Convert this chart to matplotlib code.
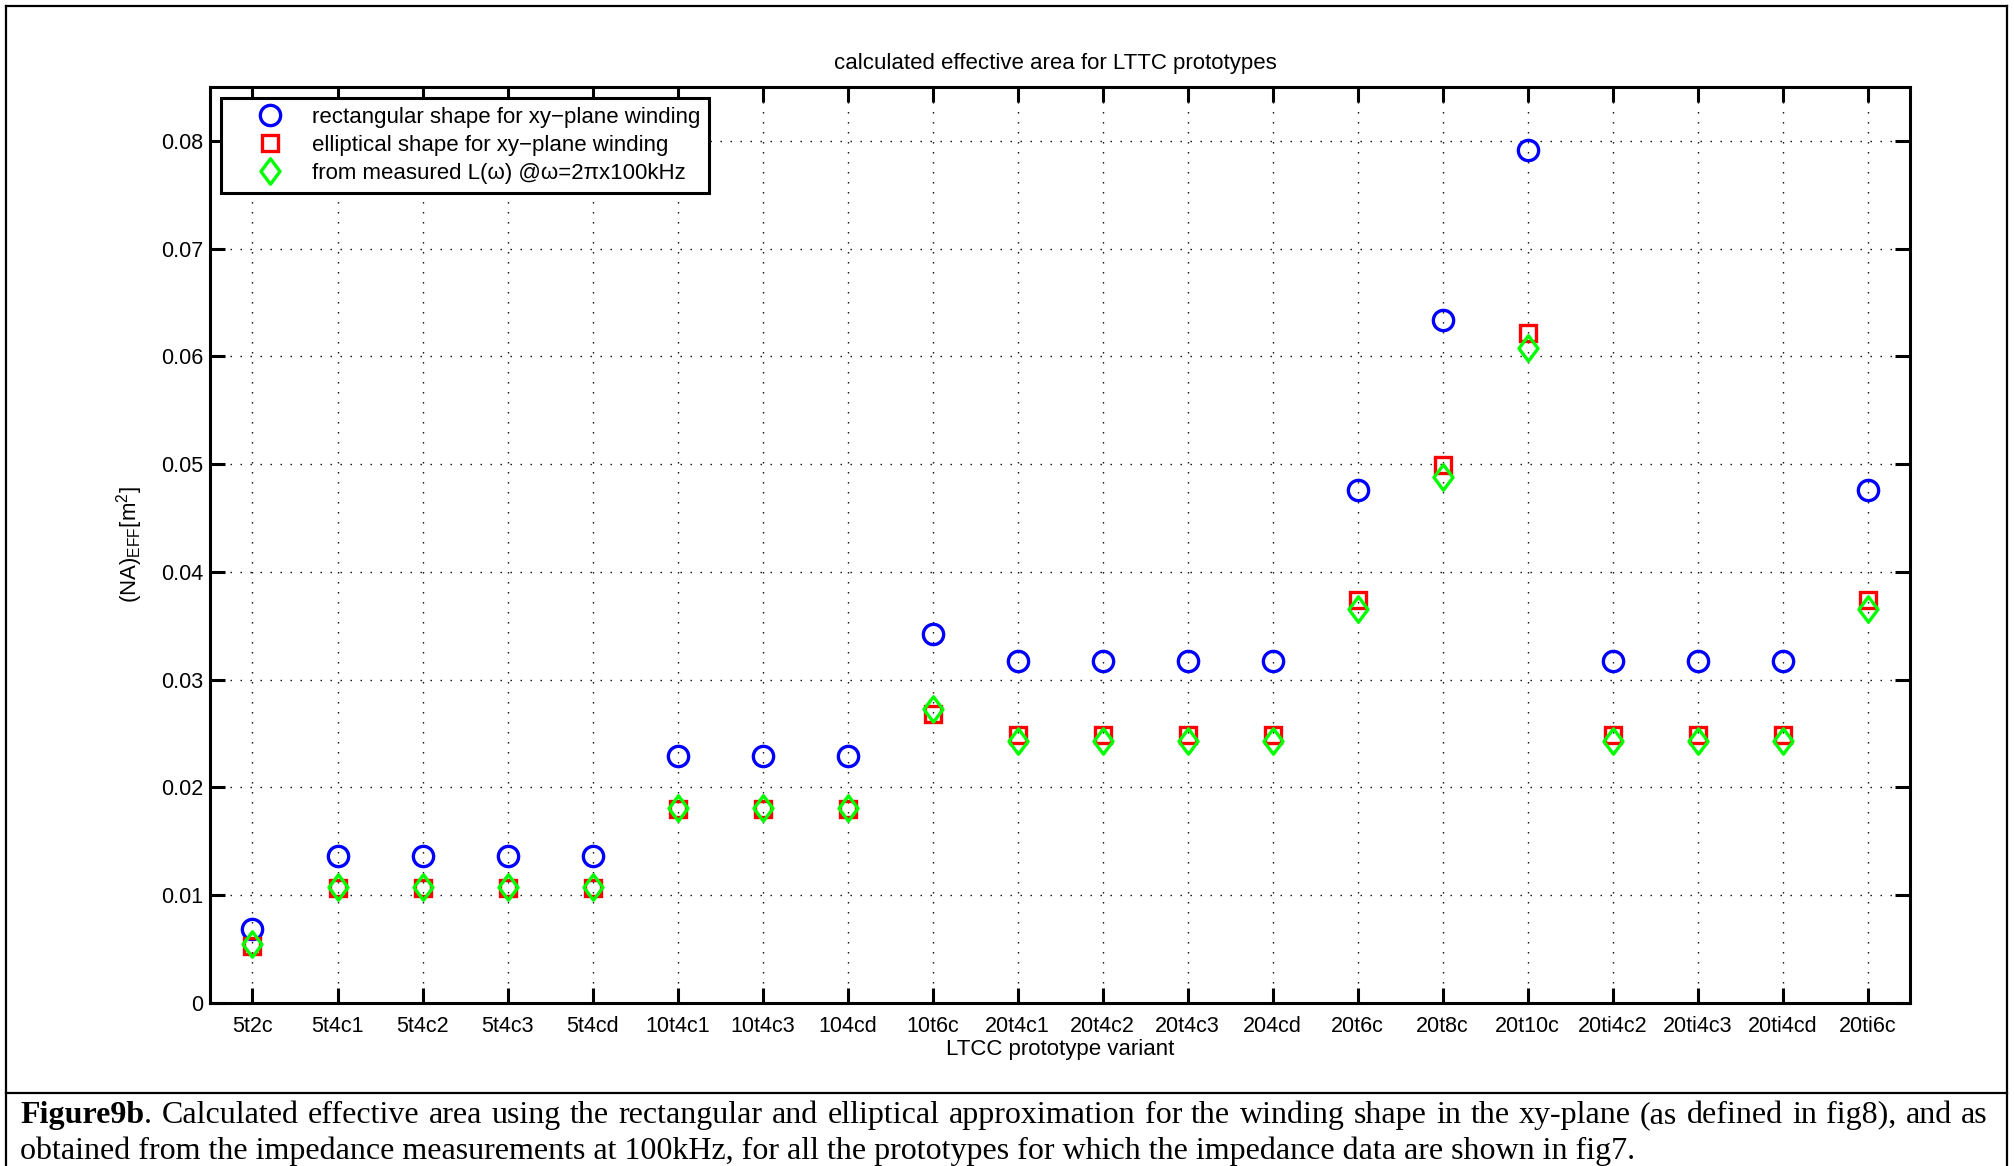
import matplotlib
matplotlib.use('Agg')
import matplotlib.pyplot as plt
from matplotlib.lines import Line2D
from matplotlib.path import Path
from matplotlib.markers import MarkerStyle

# ---------------- data ----------------
categories = ['5t2c', '5t4c1', '5t4c2', '5t4c3', '5t4cd', '10t4c1', '10t4c3', '104cd',
              '10t6c', '20t4c1', '20t4c2', '20t4c3', '204cd', '20t6c', '20t8c', '20t10c',
              '20ti4c2', '20ti4c3', '20ti4cd', '20ti6c']
rect_area = [0.0069, 0.0136, 0.0136, 0.0136, 0.0136, 0.0229, 0.0229, 0.0229,
             0.0342, 0.0317, 0.0317, 0.0317, 0.0317, 0.0476, 0.0634, 0.0792,
             0.0317, 0.0317, 0.0317, 0.0476]
ellip_area = [0.0053, 0.0107, 0.0107, 0.0107, 0.0107, 0.0180, 0.0180, 0.0180,
              0.0268, 0.0249, 0.0249, 0.0249, 0.0249, 0.0374, 0.0499, 0.0622,
              0.0249, 0.0249, 0.0249, 0.0374]
meas_area = [0.0055, 0.0108, 0.0108, 0.0108, 0.0108, 0.0181, 0.0181, 0.0181,
             0.0273, 0.0243, 0.0243, 0.0243, 0.0243, 0.0366, 0.0488, 0.0608,
             0.0243, 0.0243, 0.0243, 0.0366]
y_ticks = [0.0, 0.01, 0.02, 0.03, 0.04, 0.05, 0.06, 0.07, 0.08]
y_tick_labels = ['0', '0.01', '0.02', '0.03', '0.04', '0.05', '0.06', '0.07', '0.08']
series_labels = ['rectangular shape for xy\u2212plane winding',
                 'elliptical shape for xy\u2212plane winding',
                 'from measured L(\u03c9) @\u03c9=2\u03c0x100kHz']
title = 'calculated effective area for LTTC prototypes'
xlabel = 'LTCC prototype variant'
ylabel = r'(NA)$_{EFF}$[m$^{2}$]'
caption_bold = 'Figure9b'
caption_line1 = ('. Calculated effective area using the rectangular and elliptical approximation '
                 'for the winding shape in the xy-plane (as defined in fig8), and as')
caption_line2 = ('obtained from the impedance measurements at 100kHz, for all the prototypes '
                 'for which the impedance data are shown in fig7.')

# ---------------- style ----------------
plt.rcParams['font.family'] = ['Liberation Sans', 'DejaVu Sans']
plt.rcParams['mathtext.default'] = 'regular'

W, H = 2015, 1166
fig = plt.figure(figsize=(W / 100, H / 100), dpi=100)
fig.patch.set_facecolor('white')

ax_l, ax_r, ax_t, ax_b = 210, 1910, 87, 1003
ax = fig.add_axes([ax_l / W, 1 - ax_b / H, (ax_r - ax_l) / W, (ax_b - ax_t) / H])

x = list(range(1, len(categories) + 1))

diamond_path = Path([(0, 1), (0.75, 0), (0, -1), (-0.75, 0), (0, 1)],
                    [Path.MOVETO, Path.LINETO, Path.LINETO, Path.LINETO, Path.CLOSEPOLY])
m_circle = MarkerStyle('o', joinstyle='miter')
m_square = MarkerStyle('s', joinstyle='miter')
m_diam = MarkerStyle(diamond_path, joinstyle='miter')

ax.plot(x, rect_area, linestyle='none', marker=m_circle, ms=14.6, mfc='none',
        mec='#0000ff', mew=2.4, label=series_labels[0], zorder=3)
ax.plot(x, ellip_area, linestyle='none', marker=m_square, ms=11.3, mfc='none',
        mec='#ff0000', mew=2.4, label=series_labels[1], zorder=3)
ax.plot(x, meas_area, linestyle='none', marker=m_diam, ms=18.3, mfc='none',
        mec='#00ff00', mew=2.4, label=series_labels[2], zorder=3)

ax.set_xlim(0.5, len(categories) + 0.5)
ax.set_ylim(0, 0.085)
ax.set_xticks(x)
ax.set_xticklabels(categories)
ax.set_yticks(y_ticks)
ax.set_yticklabels(y_tick_labels)

ax.grid(True, color='k', linestyle=(0, (1, 6.2)), linewidth=1.0)
ax.set_axisbelow(True)
for s in ax.spines.values():
    s.set_linewidth(2.2)
    s.set_zorder(4)
ax.tick_params(axis='both', which='major', direction='in', length=10.8, width=2.2,
               top=True, right=True, labelsize=15.5, colors='k')
ax.tick_params(axis='x', pad=9)
ax.tick_params(axis='y', pad=5)

ax.set_title(title, fontsize=16, pad=13, x=0.497)
ax.set_xlabel(xlabel, fontsize=16)
ax.set_ylabel(ylabel, fontsize=16)
ax.xaxis.set_label_coords(0.5, (ax_b - 1039) / (ax_b - ax_t))
ax.yaxis.set_label_coords((145 - ax_l) / (ax_r - ax_l), 0.5)

leg = ax.legend(loc='upper left',
                bbox_to_anchor=((221 - ax_l) / (ax_r - ax_l), (ax_b - 98) / (ax_b - ax_t)),
                borderaxespad=0, fontsize=16, frameon=True, fancybox=False,
                shadow=False, labelspacing=0.32, handlelength=3.6, handletextpad=0.1,
                borderpad=0.4)
fr = leg.get_frame()
fr.set_edgecolor('k')
fr.set_linewidth(2.2)
fr.set_alpha(1)
leg.set_zorder(5)

# ---------------- outer frame ----------------
def fx(px):
    return px / W

def fy(py):
    return 1 - py / H

lw_frame = 1.6
fig.add_artist(Line2D([fx(6), fx(6)], [fy(6), fy(1166)], color='k', lw=lw_frame))
fig.add_artist(Line2D([fx(2007), fx(2007)], [fy(6), fy(1166)], color='k', lw=lw_frame))
fig.add_artist(Line2D([fx(6), fx(2007)], [fy(6), fy(6)], color='k', lw=lw_frame))
fig.add_artist(Line2D([fx(6), fx(2007)], [fy(1093), fy(1093)], color='k', lw=lw_frame))

# ---------------- caption ----------------
serif = ['Liberation Serif', 'DejaVu Serif']
fig.canvas.draw()
r = fig.canvas.get_renderer()


def text_width(s, **kw):
    t = fig.text(0, 0, s, family=serif, **kw)
    w = t.get_window_extent(r).width
    t.remove()
    return w


w2 = text_width(caption_line2, fontsize=20)
cap_fs = 20 * 1615 / w2

# line 1: justified between x=20 and x=1988
line1_words = caption_line1.split(' ')
first_rest = line1_words[0]          # '.'
other_words = line1_words[1:]
w_bold = text_width(caption_bold, fontsize=cap_fs, fontweight='bold')
w_first = text_width(first_rest, fontsize=cap_fs)
w_words = [text_width(wd, fontsize=cap_fs) for wd in other_words]
x_start, x_end = 20, 1988
total = w_bold + w_first + sum(w_words)
gap = (x_end - x_start - total) / len(other_words)

y1, y2 = 1123, 1159
fig.text(fx(x_start), fy(y1), caption_bold, family=serif, fontsize=cap_fs,
         fontweight='bold', va='baseline', ha='left')
xc = x_start + w_bold
fig.text(fx(xc), fy(y1), first_rest, family=serif, fontsize=cap_fs,
         va='baseline', ha='left')
xc += w_first
for wd, ww in zip(other_words, w_words):
    xc += gap
    fig.text(fx(xc), fy(y1), wd, family=serif, fontsize=cap_fs,
             va='baseline', ha='left')
    xc += ww

fig.text(fx(x_start), fy(y2), caption_line2, family=serif, fontsize=cap_fs,
         va='baseline', ha='left')

fig.savefig('out.png', dpi=100, facecolor='white')
